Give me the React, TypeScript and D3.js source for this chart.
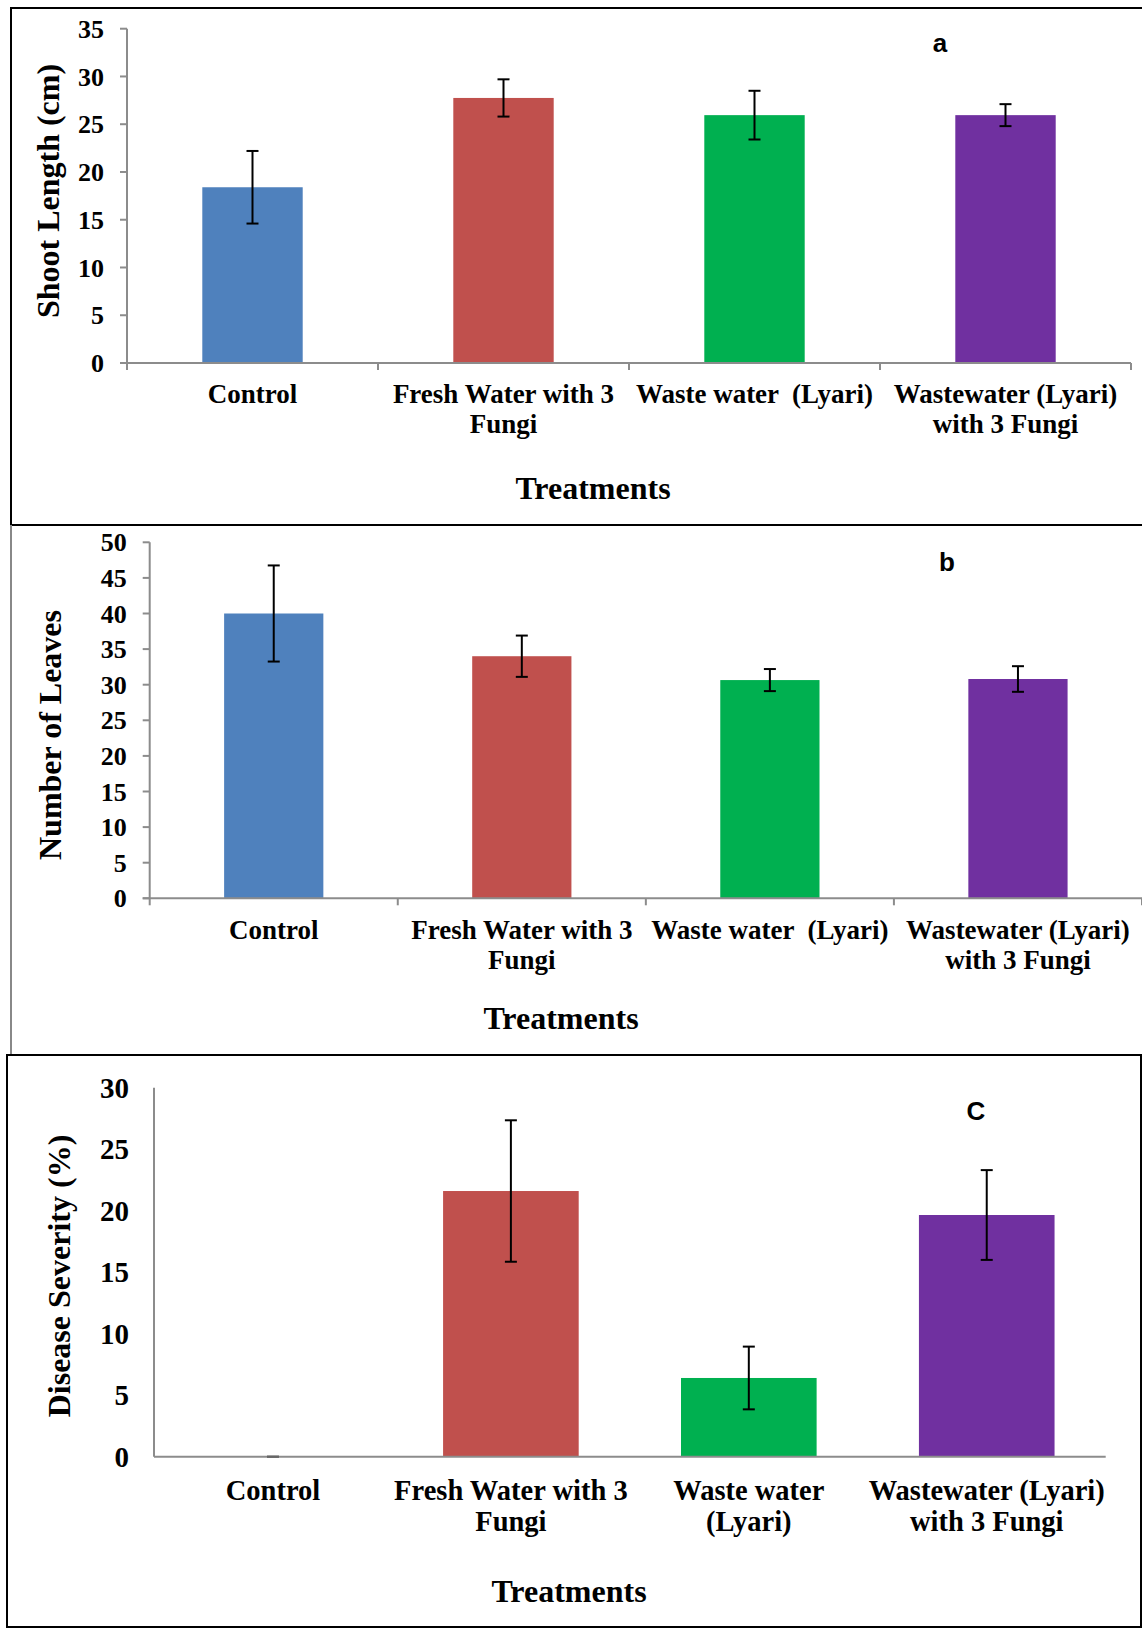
import * as d3 from 'd3';

const categories = ['Control', 'Fresh Water with 3 Fungi', 'Waste water (Lyari)', 'Wastewater (Lyari) with 3 Fungi'];
const labelsAB = [['Control'], ['Fresh Water with 3', 'Fungi'], ['Waste water  (Lyari)'], ['Wastewater (Lyari)', 'with 3 Fungi']];
const labelsC = [['Control'], ['Fresh Water with 3', 'Fungi'], ['Waste water', '(Lyari)'], ['Wastewater (Lyari)', 'with 3 Fungi']];
const colors = ['#4F81BD', '#C0504D', '#00B050', '#7030A0'];

const shootLength = [18.4, 27.75, 25.95, 25.95];
const shootErr = [3.8, 1.95, 2.55, 1.15];
const leaves = [40.0, 34.0, 30.65, 30.8];
const leavesErr = [6.75, 2.9, 1.55, 1.8];
const severity = [0, 21.6, 6.4, 19.65];
const severityErr = [0, 5.75, 2.55, 3.65];

const ticksA = d3.range(0, 36, 5);
const ticksB = d3.range(0, 51, 5);
const ticksC = d3.range(0, 31, 5);

const serif = '"Liberation Serif", "Times New Roman", serif';
const axisColor = '#8c8c8c';

type PanelProps = {
  values: number[];
  errors: number[];
  ticks: number[];
  labels: string[][];
  yTitle: string;
  letter: string;
  x0: number;
  x1: number;
  yTop: number;
  yBot: number;
  barFrac: number;
  tickFont: number;
  catFont: number;
  showTicks: boolean;
  catBase: number;
  lineGap: number;
  titleX: number;
  titleBase: number;
  yTitleX: number;
  yTitleY: number;
  letterX: number;
  letterY: number;
  tickGap: number;
};

function Panel(p: PanelProps) {
  const x = d3.scaleBand<string>().domain(categories).range([p.x0, p.x1]).padding(0);
  const y = d3
    .scaleLinear()
    .domain([0, d3.max(p.ticks) as number])
    .range([p.yBot, p.yTop]);
  const bw = x.bandwidth() * p.barFrac;
  const cap = 6;

  return (
    <g>
      {categories.map((c, i) => {
        const cx = (x(c) as number) + x.bandwidth() / 2;
        return (
          <rect
            key={c}
            x={cx - bw / 2}
            y={y(p.values[i])}
            width={bw}
            height={y(0) - y(p.values[i])}
            fill={colors[i]}
          />
        );
      })}
      {/* y axis */}
      <line x1={p.x0} x2={p.x0} y1={p.yTop} y2={p.yBot} stroke={axisColor} strokeWidth={2} />
      {p.ticks.map((t) => (
        <g key={t}>
          {p.showTicks && (
            <line x1={p.x0 - 7} x2={p.x0} y1={y(t)} y2={y(t)} stroke={axisColor} strokeWidth={2} />
          )}
          <text
            x={p.x0 - p.tickGap}
            y={y(t)}
            dy="0.35em"
            textAnchor="end"
            fontFamily={serif}
            fontWeight="bold"
            fontSize={p.tickFont}
          >
            {t}
          </text>
        </g>
      ))}
      {/* x axis */}
      <line x1={p.x0 - (p.showTicks ? 7 : 0)} x2={p.x1} y1={p.yBot} y2={p.yBot} stroke={axisColor} strokeWidth={2} />
      {p.showTicks &&
        [...categories.map((c) => x(c) as number), p.x1].map((tx, i) => (
          <line key={i} x1={tx} x2={tx} y1={p.yBot} y2={p.yBot + 7} stroke={axisColor} strokeWidth={2} />
        ))}
      {/* error bars */}
      {categories.map((c, i) => {
        const cx = (x(c) as number) + x.bandwidth() / 2;
        const hi = y(p.values[i] + p.errors[i]);
        const lo = y(p.values[i] - p.errors[i]);
        return (
          <g key={c} stroke={p.errors[i] === 0 ? '#666' : '#000'} strokeWidth={2}>
            <line x1={cx} x2={cx} y1={hi} y2={lo} />
            <line x1={cx - cap} x2={cx + cap} y1={hi} y2={hi} />
            <line x1={cx - cap} x2={cx + cap} y1={lo} y2={lo} />
          </g>
        );
      })}
      {/* category labels */}
      {categories.map((c, i) => {
        const cx = (x(c) as number) + x.bandwidth() / 2;
        return (
          <text key={c} textAnchor="middle" fontFamily={serif} fontWeight="bold" fontSize={p.catFont}>
            {p.labels[i].map((ln, j) => (
              <tspan key={j} x={cx} y={p.catBase + j * p.lineGap} style={{ whiteSpace: 'pre' }}>
                {ln}
              </tspan>
            ))}
          </text>
        );
      })}
      <text x={p.titleX} y={p.titleBase} textAnchor="middle" fontFamily={serif} fontWeight="bold" fontSize={32}>
        Treatments
      </text>
      <text
        transform={`translate(${p.yTitleX},${p.yTitleY}) rotate(-90)`}
        textAnchor="middle"
        dy="0.35em"
        fontFamily={serif}
        fontWeight="bold"
        fontSize={32}
      >
        {p.yTitle}
      </text>
      <text
        x={p.letterX}
        y={p.letterY}
        dy="0.35em"
        textAnchor="middle"
        fontFamily='"Liberation Sans", Arial, sans-serif'
        fontWeight="bold"
        fontSize={26}
      >
        {p.letter}
      </text>
    </g>
  );
}

export default function App() {
  return (
    <svg width={1142} height={1628} style={{ position: 'absolute', left: 0, top: 0, background: '#fff' }}>
      <rect width={1142} height={1628} fill="#fff" />
      {/* panel frames */}
      <line x1={11} x2={1142} y1={8} y2={8} stroke="#000" strokeWidth={2} />
      <line x1={11} x2={11} y1={7} y2={525} stroke="#000" strokeWidth={2} />
      <line x1={11} x2={1142} y1={525} y2={525} stroke="#000" strokeWidth={2} />
      <line x1={11} x2={11} y1={525} y2={1055} stroke="#888" strokeWidth={2} />
      <rect x={7} y={1055} width={1134} height={572} fill="none" stroke="#000" strokeWidth={2} />

      <Panel
        values={shootLength}
        errors={shootErr}
        ticks={ticksA}
        labels={labelsAB}
        yTitle="Shoot Length (cm)"
        letter="a"
        x0={127}
        x1={1131}
        yTop={28.7}
        yBot={363}
        barFrac={0.4}
        tickFont={26}
        catFont={27}
        showTicks={true}
        catBase={403}
        lineGap={30}
        titleX={593}
        titleBase={499}
        yTitleX={48}
        yTitleY={191}
        letterX={940}
        letterY={43}
        tickGap={23}
      />
      <Panel
        values={leaves}
        errors={leavesErr}
        ticks={ticksB}
        labels={labelsAB}
        yTitle="Number of Leaves"
        letter="b"
        x0={149.7}
        x1={1142}
        yTop={542.3}
        yBot={898.3}
        barFrac={0.4}
        tickFont={26}
        catFont={27}
        showTicks={true}
        catBase={939}
        lineGap={30}
        titleX={561}
        titleBase={1029}
        yTitleX={50}
        yTitleY={735}
        letterX={947}
        letterY={562}
        tickGap={23}
      />
      <Panel
        values={severity}
        errors={severityErr}
        ticks={ticksC}
        labels={labelsC}
        yTitle="Disease Severity (%)"
        letter="C"
        x0={154}
        x1={1105.7}
        yTop={1087.7}
        yBot={1456.7}
        barFrac={0.57}
        tickFont={29}
        catFont={28.5}
        showTicks={false}
        catBase={1500}
        lineGap={31}
        titleX={569}
        titleBase={1602}
        yTitleX={59}
        yTitleY={1276}
        letterX={976}
        letterY={1111}
        tickGap={25}
      />
    </svg>
  );
}
